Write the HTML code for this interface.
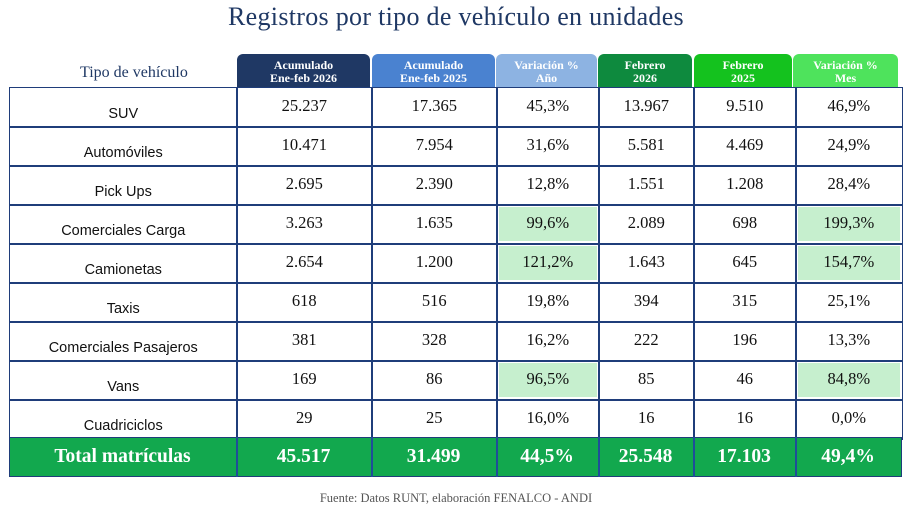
<!DOCTYPE html>
<html><head><meta charset="utf-8"><style>
body{margin:0;width:912px;height:513px;background:#fff;position:relative;overflow:hidden;font-family:"Liberation Serif",serif}
.a{position:absolute}
.t{left:0;width:912px;top:2px;text-align:center;font-size:26px;color:#1f3864;letter-spacing:0.3px}
.h{color:#fff;font-weight:bold;font-size:12px;text-align:center;line-height:13px;border-radius:6px 6px 0 0;padding-top:5px;box-sizing:border-box;height:33px;top:54px}
.c{box-sizing:border-box;border:1.5px solid #1f3d7a;height:40px}
.n{font-size:16.5px;color:#111;text-align:center;line-height:18px}
.l{font-family:"Liberation Sans",sans-serif;font-size:14.5px;color:#111;text-align:center}
.g{background:#c6efce}
</style></head><body>
<div class="a t">Registros por tipo de vehículo en unidades</div>
<div class="a" style="left:80px;top:64px;font-size:16px;color:#1f3864">Tipo de vehículo</div>
<div class="a h" style="left:237px;width:133px;background:#1f3864">Acumulado<br>Ene-feb 2026</div>
<div class="a h" style="left:372px;width:123px;background:#4a82d0">Acumulado<br>Ene-feb 2025</div>
<div class="a h" style="left:496px;width:101px;background:#8db3e2">Variación %<br>Año</div>
<div class="a h" style="left:598px;width:94px;background:#0e8a3e">Febrero<br>2026</div>
<div class="a h" style="left:694px;width:98px;background:#14c21e">Febrero<br>2025</div>
<div class="a h" style="left:793px;width:105px;background:#4ee35c">Variación %<br>Mes</div>
<div id="g"></div>
<script>
var X=[9,236,371,496,598,693,795,901];
var R=[["SUV","25.237","17.365","45,3%","13.967","9.510","46,9%"],
["Automóviles","10.471","7.954","31,6%","5.581","4.469","24,9%"],
["Pick Ups","2.695","2.390","12,8%","1.551","1.208","28,4%"],
["Comerciales Carga","3.263","1.635","99,6%","2.089","698","199,3%",1],
["Camionetas","2.654","1.200","121,2%","1.643","645","154,7%",1],
["Taxis","618","516","19,8%","394","315","25,1%"],
["Comerciales Pasajeros","381","328","16,2%","222","196","13,3%"],
["Vans","169","86","96,5%","85","46","84,8%",1],
["Cuadriciclos","29","25","16,0%","16","16","0,0%"]];
var h="";
R.forEach(function(r,i){var y=87+i*39;
for(var j=0;j<7;j++){var x=X[j],w=X[j+1]-X[j]+1.5;
var gg=r[7]&&(j==3||j==6);
h+='<div class="a c" style="left:'+x+'px;top:'+y+'px;width:'+w+'px;height:40.5px"></div>';
if(gg)h+='<div class="a g" style="left:'+(x+3)+'px;top:'+(y+3)+'px;width:'+(w-6)+'px;height:34px"></div>';
if(j==0)h+='<div class="a l" style="left:'+x+'px;width:'+w+'px;top:'+(y+19)+'px">'+r[0]+'</div>';
else h+='<div class="a n" style="left:'+x+'px;width:'+w+'px;top:'+(y+10)+'px">'+r[j]+'</div>';}});
var T=["Total matrículas","45.517","31.499","44,5%","25.548","17.103","49,4%"];
h+='<div class="a" style="left:9px;top:437px;width:893px;height:40px;background:#12a84e;border:1.5px solid #1f3d7a;box-sizing:border-box"></div>';
for(var j=0;j<7;j++){var x=X[j],w=X[j+1]-X[j];
if(j>0)h+='<div class="a" style="left:'+x+'px;top:437px;width:1.5px;height:40px;background:#1f4d9a"></div>';
h+='<div class="a" style="left:'+x+'px;width:'+w+'px;top:446px;text-align:center;color:#fff;font-weight:bold;font-size:19.5px">'+T[j]+'</div>';}
document.getElementById("g").innerHTML=h;
</script>
<div class="a" style="left:0;width:912px;text-align:center;top:491px;font-size:12.5px;color:#555">Fuente: Datos RUNT, elaboración FENALCO - ANDI</div>
</body></html>
